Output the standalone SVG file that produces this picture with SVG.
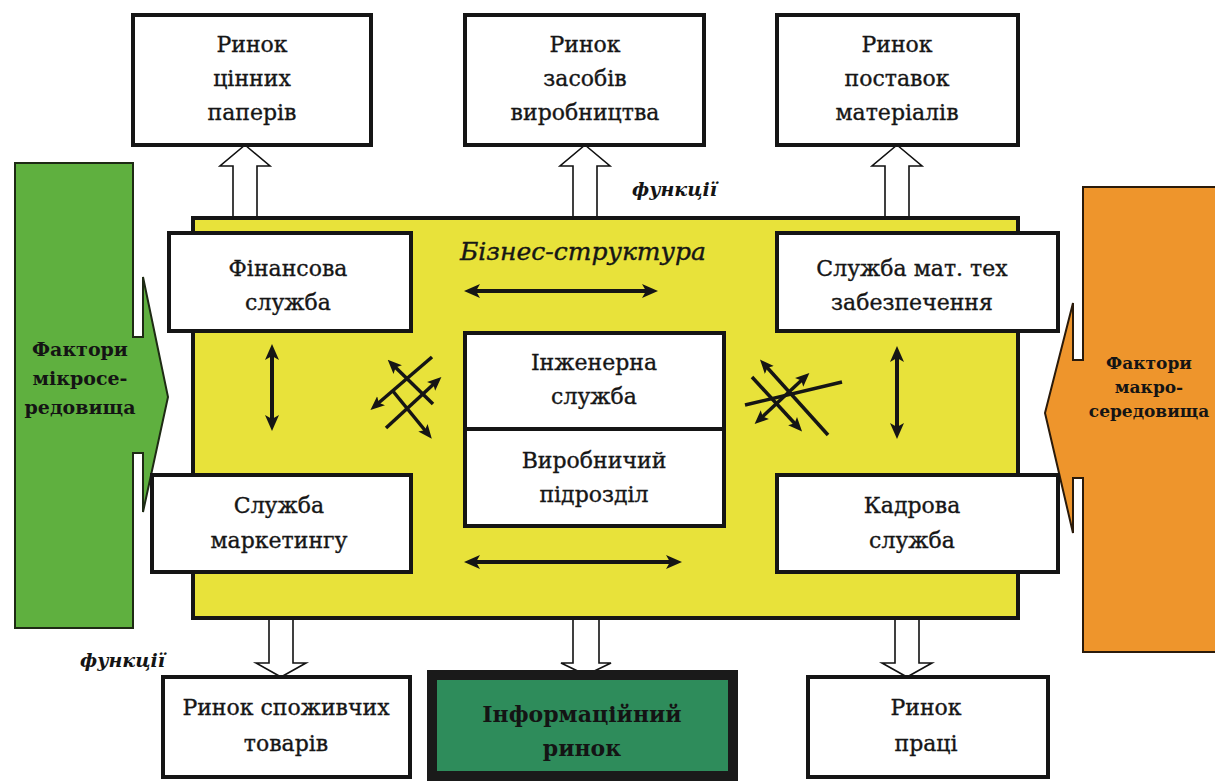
<svg xmlns="http://www.w3.org/2000/svg" width="1215" height="781" viewBox="0 0 1215 781">
<style>
.box{fill:#fff;stroke:#151515;stroke-width:4}
.t{font-family:"DejaVu Serif","Liberation Serif",serif;font-size:22px;fill:#161616;stroke:#161616;stroke-width:0.35;text-anchor:middle}
.tb{font-family:"DejaVu Serif","Liberation Serif",serif;font-weight:bold;fill:#141414;text-anchor:middle}
.blk{fill:#fff;stroke:#111;stroke-width:1.6;stroke-linejoin:miter}
.dbl{stroke:#151515;stroke-width:4;fill:none}
.crs{stroke:#151515;stroke-width:3.5;fill:none}
.fn{font-family:"DejaVu Serif","Liberation Serif",serif;font-style:italic;font-weight:bold;font-size:19px;fill:#141414}
</style>
<defs>
<marker id="ah" markerUnits="userSpaceOnUse" markerWidth="16" markerHeight="16" refX="10" refY="8" orient="auto-start-reverse" viewBox="0 0 16 16">
<path d="M0,1 L16,8 L0,15 L4,8 Z" fill="#151515"/>
</marker>
<marker id="ahs" markerUnits="userSpaceOnUse" markerWidth="14" markerHeight="14" refX="8" refY="7" orient="auto-start-reverse" viewBox="0 0 14 14">
<path d="M0,1 L14,7 L0,13 L3,7 Z" fill="#151515"/>
</marker>
</defs>
<rect width="1215" height="781" fill="#fff"/>

<g id="connectors">
<path class="blk" d="M245,145 L270,166 L257,166 L257,218 L233,218 L233,166 L220,166 Z"/>
<path class="blk" d="M585,145 L610,166 L597,166 L597,218 L573,218 L573,166 L560,166 Z"/>
<path class="blk" d="M897,145 L922,166 L909,166 L909,218 L885,218 L885,166 L872,166 Z"/>
<path class="blk" d="M281,677 L306,663 L293,663 L293,618 L269,618 L269,663 L256,663 Z"/>
<path class="blk" d="M586,675 L611,663 L599,663 L599,618 L573,618 L573,663 L561,663 Z"/>
<path class="blk" d="M907,677 L932,663 L919,663 L919,618 L895,618 L895,663 L882,663 Z"/>
</g>

<g id="microenv">
<path d="M15,163 H133 V337 H143 V277 L168,397 L143,512 V453 H133 V628 H15 Z" fill="#5fb03f" stroke="#1e2a14" stroke-width="2"/>
<text class="tb" font-size="19" x="80" y="356">Фактори</text>
<text class="tb" font-size="19" x="80" y="385">мікросе-</text>
<text class="tb" font-size="19" x="80" y="414">редовища</text>
</g>

<g id="macroenv">
<path d="M1083,187 H1217 V652 H1083 V478 H1073 V533 L1045,413 L1073,303 V360 H1083 Z" fill="#ee952c" stroke="#2a1a0a" stroke-width="2"/>
<text class="tb" font-size="17" x="1149" y="369">Фактори</text>
<text class="tb" font-size="17" x="1149" y="393">макро-</text>
<text class="tb" font-size="17" x="1149" y="417">середовища</text>
</g>

<g id="business">
<rect x="193" y="218" width="825" height="400" fill="#e8e23a" stroke="#151515" stroke-width="4"/>
<text x="583" y="260" font-family="DejaVu Serif,Liberation Serif,serif" font-style="italic" font-size="25" fill="#161616" stroke="#161616" stroke-width="0.4" text-anchor="middle">Бізнес-структура</text>
</g>

<g id="inner-arrows">
<line class="dbl" x1="470" y1="291" x2="652" y2="291" marker-start="url(#ah)" marker-end="url(#ah)"/>
<line class="dbl" x1="470" y1="562" x2="676" y2="562" marker-start="url(#ah)" marker-end="url(#ah)"/>
<line class="dbl" x1="272" y1="350" x2="272" y2="425" marker-start="url(#ah)" marker-end="url(#ah)"/>
<line class="dbl" x1="897" y1="352" x2="897" y2="433" marker-start="url(#ah)" marker-end="url(#ah)"/>
<line class="crs" x1="432" y1="357" x2="375" y2="406" marker-end="url(#ahs)"/>
<line class="crs" x1="437" y1="381" x2="386" y2="428" marker-start="url(#ahs)"/>
<line class="crs" x1="392" y1="364" x2="433" y2="404" marker-start="url(#ahs)"/>
<line class="crs" x1="392" y1="390" x2="428" y2="434" marker-end="url(#ahs)"/>
<line class="crs" x1="764" y1="364" x2="828" y2="435" marker-start="url(#ahs)"/>
<line class="crs" x1="752" y1="377" x2="798" y2="427" marker-end="url(#ahs)"/>
<line class="crs" x1="842" y1="382" x2="745" y2="405"/>
<line class="crs" x1="805" y1="377" x2="759" y2="420" marker-start="url(#ahs)" marker-end="url(#ahs)"/>
</g>

<g id="rynok-tsinnykh">
<rect class="box" x="133" y="15" width="238" height="130"/>
<text class="t" x="252" y="52">Ринок</text>
<text class="t" x="252" y="86">цінних</text>
<text class="t" x="252" y="120">паперів</text>
</g>
<g id="rynok-zasobiv">
<rect class="box" x="465" y="15" width="239" height="130"/>
<text class="t" x="585" y="52">Ринок</text>
<text class="t" x="585" y="86">засобів</text>
<text class="t" x="585" y="120">виробництва</text>
</g>
<g id="rynok-postavok">
<rect class="box" x="777" y="15" width="241" height="130"/>
<text class="t" x="897" y="52">Ринок</text>
<text class="t" x="897" y="86">поставок</text>
<text class="t" x="897" y="120">матеріалів</text>
</g>

<text class="fn" x="632" y="196">функції</text>
<text class="fn" x="80" y="667">функції</text>

<g id="finansova">
<rect class="box" x="169" y="233" width="242" height="98"/>
<text class="t" x="288" y="276">Фінансова</text>
<text class="t" x="288" y="310">служба</text>
</g>
<g id="mat-tekh">
<rect class="box" x="777" y="233" width="281" height="98"/>
<text class="t" x="912" y="276">Служба  мат. тех</text>
<text class="t" x="912" y="310">забезпечення</text>
</g>
<g id="inzhenerna">
<rect class="box" x="465" y="333" width="259" height="96"/>
<text class="t" x="594" y="370">Інженерна</text>
<text class="t" x="594" y="404">служба</text>
</g>
<g id="vyrobnychyi">
<rect class="box" x="465" y="429" width="259" height="97"/>
<text class="t" x="594" y="468">Виробничий</text>
<text class="t" x="594" y="502">підрозділ</text>
</g>
<g id="marketynh">
<rect class="box" x="152" y="475" width="259" height="97"/>
<text class="t" x="279" y="513">Служба</text>
<text class="t" x="279" y="548">маркетингу</text>
</g>
<g id="kadrova">
<rect class="box" x="777" y="475" width="281" height="97"/>
<text class="t" x="912" y="513">Кадрова</text>
<text class="t" x="912" y="548">служба</text>
</g>

<g id="rynok-spozhyvchykh">
<rect class="box" x="163" y="677" width="247" height="100"/>
<text class="t" x="286" y="715">Ринок споживчих</text>
<text class="t" x="286" y="751">товарів</text>
</g>
<g id="informatsiinyi">
<rect x="432" y="675" width="301" height="101" fill="#2e8c5b" stroke="#1a1a1a" stroke-width="10"/>
<text class="tb" font-size="22" x="582" y="722">Інформаційний</text>
<text class="tb" font-size="22" x="582" y="756">ринок</text>
</g>
<g id="rynok-pratsi">
<rect class="box" x="808" y="677" width="240" height="100"/>
<text class="t" x="926" y="715">Ринок</text>
<text class="t" x="926" y="751">праці</text>
</g>
</svg>
